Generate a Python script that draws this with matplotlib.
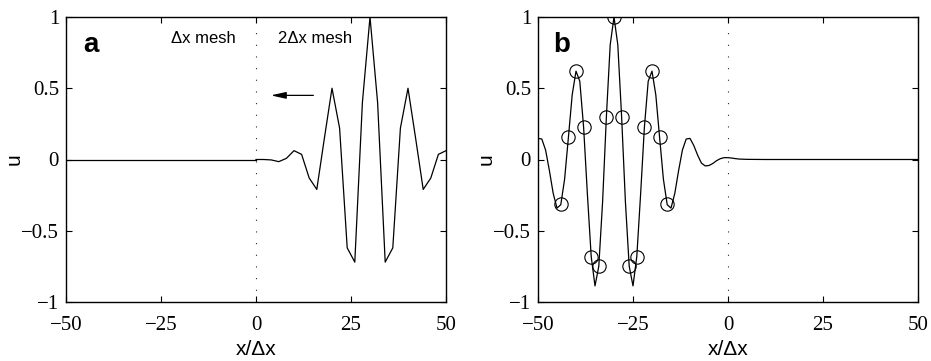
import matplotlib
matplotlib.use("Agg")
import matplotlib.pyplot as plt

# ---- panel a: fine (dx) mesh on the left, coarse (2dx) mesh on the right ----
xa_fine = [-50, -40, -30, -20, -10, 0]
ua_fine = [0.0, 0.0, 0.0, 0.0, 0.0, 0.0]

xa_coarse = [0, 2, 4, 6, 8, 10, 12, 14, 16, 18, 20, 22, 24, 26, 28,
             30, 32, 34, 36, 38, 40, 42, 44, 46, 48, 50]
ua_coarse = [0.0, 0.0, -0.003, -0.015, 0.008, 0.062, 0.036, -0.13, -0.21, 0.15,
             0.5, 0.22, -0.62, -0.72, 0.4, 1.0, 0.4, -0.72, -0.62, 0.22, 0.5,
             0.15, -0.21, -0.13, 0.036, 0.062]

# ---- panel b: packet after entering the fine mesh ----
xb = [-50, -49, -48, -47, -46, -45, -44, -43, -42, -41, -40, -39, -38, -37,
      -36, -35, -34, -33, -32, -31, -30, -29, -28, -27, -26, -25, -24, -23,
      -22, -21, -20, -19, -18, -17, -16, -15, -14, -13, -12, -11, -10, -9,
      -8, -7, -6, -5, -4, -3, -2, -1, 0, 1, 2, 3, 5, 10, 50]
ub = [0.148, 0.144, 0.066, -0.078, -0.238, -0.341, -0.317, -0.138, 0.155,
      0.454, 0.620, 0.549, 0.227, -0.244, -0.681, -0.887, -0.749, -0.296,
      0.303, 0.805, 1.000, 0.805, 0.303, -0.296, -0.749, -0.887, -0.681,
      -0.244, 0.227, 0.549, 0.620, 0.454, 0.155, -0.138, -0.317, -0.341,
      -0.238, -0.078, 0.066, 0.144, 0.148, 0.098, 0.031, -0.025, -0.045,
      -0.042, -0.028, -0.008, 0.006, 0.013, 0.013, 0.010, 0.006, 0.003,
      0.001, 0.0, 0.0]

# coarse-mesh samples shown as circles
xb_pts = [-44, -42, -40, -38, -36, -34, -32, -30, -28, -26, -24, -22, -20, -18, -16]
ub_pts = [-0.312, 0.156, 0.621, 0.226, -0.682, -0.745, 0.30, 1.0, 0.30,
          -0.745, -0.682, 0.226, 0.621, 0.156, -0.312]

xticks = [-50, -25, 0, 25, 50]
yticks = [-1, -0.5, 0, 0.5, 1]
xticklabels = ["\u221250", "\u221225", "0", "25", "50"]
yticklabels = ["\u22121", "\u22120.5", "0", "0.5", "1"]

SERIF = "Liberation Serif"
SANS = "Liberation Sans"

fig = plt.figure(figsize=(9.31, 3.61), dpi=100)
W, H = 931, 361


def make_axes(left_px):
    ax = fig.add_axes([left_px / W, 1 - 302 / H, 380 / W, 285 / H])
    ax.set_xlim(-50, 50)
    ax.set_ylim(-1, 1)
    ax.set_xticks(xticks)
    ax.set_yticks(yticks)
    ax.set_xticklabels(xticklabels, family=SERIF, fontsize=15)
    ax.set_yticklabels(yticklabels, family=SERIF, fontsize=15)
    ax.tick_params(direction="in", length=4, width=0.8, top=True, right=True)
    ax.tick_params(axis="x", pad=10)
    ax.tick_params(axis="y", pad=5)
    for s in ax.spines.values():
        s.set_linewidth(1.0)
    ax.axvline(0, color="0.15", lw=0.8, linestyle=(0, (1, 9.5)), zorder=1)
    ax.set_xlabel("x/\u0394x", family=SANS, fontsize=15)
    ax.xaxis.set_label_coords(0.5, -0.168)
    ax.xaxis.label.set_va("center")
    ax.set_ylabel("u", family=SANS, fontsize=15)
    ax.yaxis.set_label_coords(-0.137, 0.5)
    ax.yaxis.label.set_va("center")
    return ax


axa = make_axes(66)
axa.plot(xa_fine, ua_fine, color="black", lw=0.9)
axa.plot(xa_coarse, ua_coarse, color="black", lw=0.9)
axa.text(-45.5, 0.80, "a", family=SANS, fontweight="bold", fontsize=20,
         ha="left", va="center")
axa.text(-22.4, 0.846, "\u0394x mesh", family=SANS, fontsize=12,
         ha="left", va="center")
axa.text(5.9, 0.846, "2\u0394x mesh", family=SANS, fontsize=12,
         ha="left", va="center")
axa.annotate("", xy=(3.9, 0.45), xytext=(15.1, 0.45),
             arrowprops=dict(arrowstyle="-|>,head_length=0.9,head_width=0.2",
                             mutation_scale=10, color="black", lw=0.9,
                             shrinkA=0, shrinkB=0))

axb = make_axes(538)
axb.plot(xb, ub, color="black", lw=0.9)
axb.plot(xb_pts, ub_pts, linestyle="none", marker="o", ms=9.6,
         mfc="none", mec="black", mew=0.8)
axb.text(-46.1, 0.80, "b", family=SANS, fontweight="bold", fontsize=20,
         ha="left", va="center")

fig.savefig("out.png", dpi=100)
